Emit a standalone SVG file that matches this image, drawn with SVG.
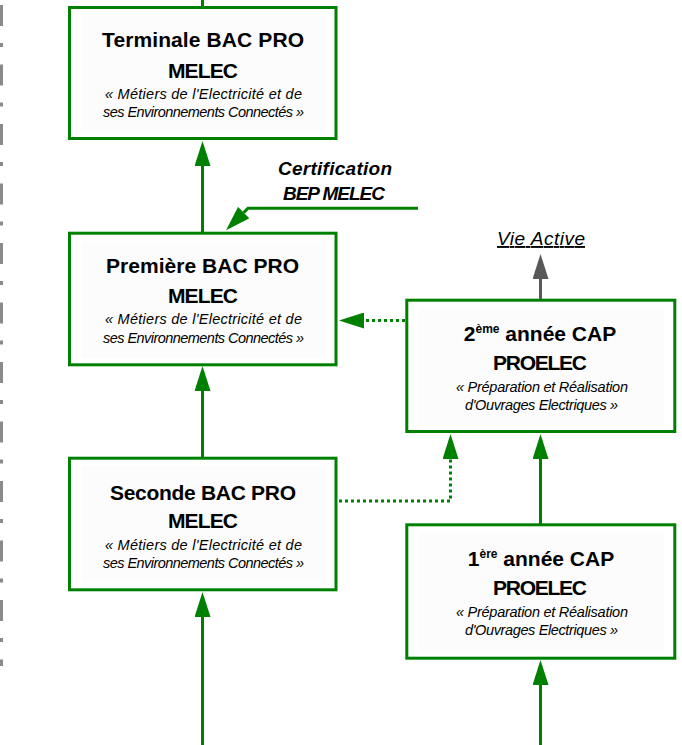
<svg xmlns="http://www.w3.org/2000/svg" width="682" height="745" viewBox="0 0 682 745">
<style>
.box{fill:#ffffff;stroke:#008000;stroke-width:3}
.inner{fill:#fbfcfb;stroke:none}
.t{font-family:"Liberation Sans",Arial,sans-serif;font-weight:bold;font-size:21px;fill:#000;text-anchor:middle}
.i{font-family:"Liberation Sans",Arial,sans-serif;font-style:italic;font-size:14.5px;fill:#000;text-anchor:middle}
.lbl{font-family:"Liberation Sans",Arial,sans-serif;font-style:italic;font-weight:bold;font-size:19px;fill:#000;text-anchor:middle}
.va{font-family:"Liberation Sans",Arial,sans-serif;font-style:italic;font-size:19px;fill:#000;text-anchor:middle}
.c{fill:none;stroke:#008000;stroke-width:3}
.d{fill:none;stroke:#008000;stroke-width:3;stroke-dasharray:3 3}
.g{fill:none;stroke:#595959;stroke-width:3}
</style>
<defs>
<marker id="ah" markerUnits="userSpaceOnUse" markerWidth="25" markerHeight="16" viewBox="0 0 25 16" refX="0" refY="8" orient="auto"><path d="M0,0 L25,8 L0,16 Z" fill="#008000"/></marker>
<marker id="ahg" markerUnits="userSpaceOnUse" markerWidth="25" markerHeight="16" viewBox="0 0 25 16" refX="0" refY="8" orient="auto"><path d="M0,0 L25,8 L0,16 Z" fill="#595959"/></marker>
</defs>
<rect width="682" height="745" fill="#ffffff"/>
<line x1="1.5" y1="5" x2="1.5" y2="666" stroke="#8a8a8a" stroke-width="3" stroke-dasharray="21 17 4 17.5"/>
<g id="connectors">
<line class="c" x1="202.5" y1="0" x2="202.5" y2="7"/>
<line class="c" x1="202.5" y1="233" x2="202.5" y2="166" marker-end="url(#ah)"/>
<line class="c" x1="202.5" y1="457" x2="202.5" y2="391" marker-end="url(#ah)"/>
<line class="c" x1="202.5" y1="745" x2="202.5" y2="617" marker-end="url(#ah)"/>
<polyline class="c" points="418,208.3 248,208.3 243.7,212.6" marker-end="url(#ah)"/>
<line class="g" x1="540.5" y1="299" x2="540.5" y2="279" marker-end="url(#ahg)"/>
<line class="d" x1="405" y1="320.5" x2="364" y2="320.5" marker-end="url(#ah)"/>
<polyline class="d" points="339,501 450.5,501 450.5,459" marker-end="url(#ah)"/>
<line class="c" x1="540.5" y1="524" x2="540.5" y2="459" marker-end="url(#ah)"/>
<line class="c" x1="540.5" y1="745" x2="540.5" y2="685" marker-end="url(#ah)"/>
</g>
<g id="label-certification">
<text class="lbl" x="335" y="175" textLength="114">Certification</text>
<text class="lbl" x="334" y="200" font-size="18" textLength="102">BEP MELEC</text>
</g>
<g id="label-vie-active">
<text class="va" x="541" y="245" textLength="88" text-decoration="underline">Vie Active</text>
</g>
<g id="terminale">
<rect class="box" x="69.5" y="7.5" width="266.5" height="131"/>
<rect class="inner" x="81" y="15" width="244" height="117"/>
<text class="t" x="203" y="47" textLength="202">Terminale BAC PRO</text>
<text class="t" x="203" y="78" textLength="70">MELEC</text>
<text class="i" x="203.5" y="99" textLength="197">« Métiers de l'Electricité et de</text>
<text class="i" x="203.5" y="117" textLength="201">ses Environnements Connectés »</text>
</g>
<g id="premiere">
<rect class="box" x="69.5" y="233.2" width="266.5" height="131.6"/>
<rect class="inner" x="81" y="241" width="244" height="117"/>
<text class="t" x="202.5" y="273" textLength="193">Première BAC PRO</text>
<text class="t" x="203" y="303" textLength="70">MELEC</text>
<text class="i" x="203.5" y="324" textLength="197">« Métiers de l'Electricité et de</text>
<text class="i" x="203.5" y="343" textLength="201">ses Environnements Connectés »</text>
</g>
<g id="seconde">
<rect class="box" x="69.5" y="458.2" width="266.5" height="131.6"/>
<rect class="inner" x="81" y="466" width="244" height="117"/>
<text class="t" x="203" y="500" textLength="186">Seconde BAC PRO</text>
<text class="t" x="203" y="528" textLength="70">MELEC</text>
<text class="i" x="203.5" y="550" textLength="197">« Métiers de l'Electricité et de</text>
<text class="i" x="203.5" y="568" textLength="201">ses Environnements Connectés »</text>
</g>
<g id="cap2">
<rect class="box" x="406.8" y="300.2" width="268" height="131.3"/>
<rect class="inner" x="418" y="308" width="246" height="117"/>
<text class="t" x="540" y="341">2<tspan font-size="12" dy="-8">ème</tspan><tspan dy="8"> année CAP</tspan></text>
<text class="t" x="540" y="370" textLength="94">PROELEC</text>
<text class="i" x="542" y="392" textLength="172">« Préparation et Réalisation</text>
<text class="i" x="541.5" y="410" textLength="153">d'Ouvrages Electriques »</text>
</g>
<g id="cap1">
<rect class="box" x="406.8" y="524.8" width="268" height="133.4"/>
<rect class="inner" x="418" y="533" width="246" height="118"/>
<text class="t" x="541" y="566">1<tspan font-size="12" dy="-8">ère</tspan><tspan dy="8"> année CAP</tspan></text>
<text class="t" x="540" y="595" textLength="94">PROELEC</text>
<text class="i" x="542" y="617" textLength="172">« Préparation et Réalisation</text>
<text class="i" x="541.5" y="635" textLength="153">d'Ouvrages Electriques »</text>
</g>
</svg>
